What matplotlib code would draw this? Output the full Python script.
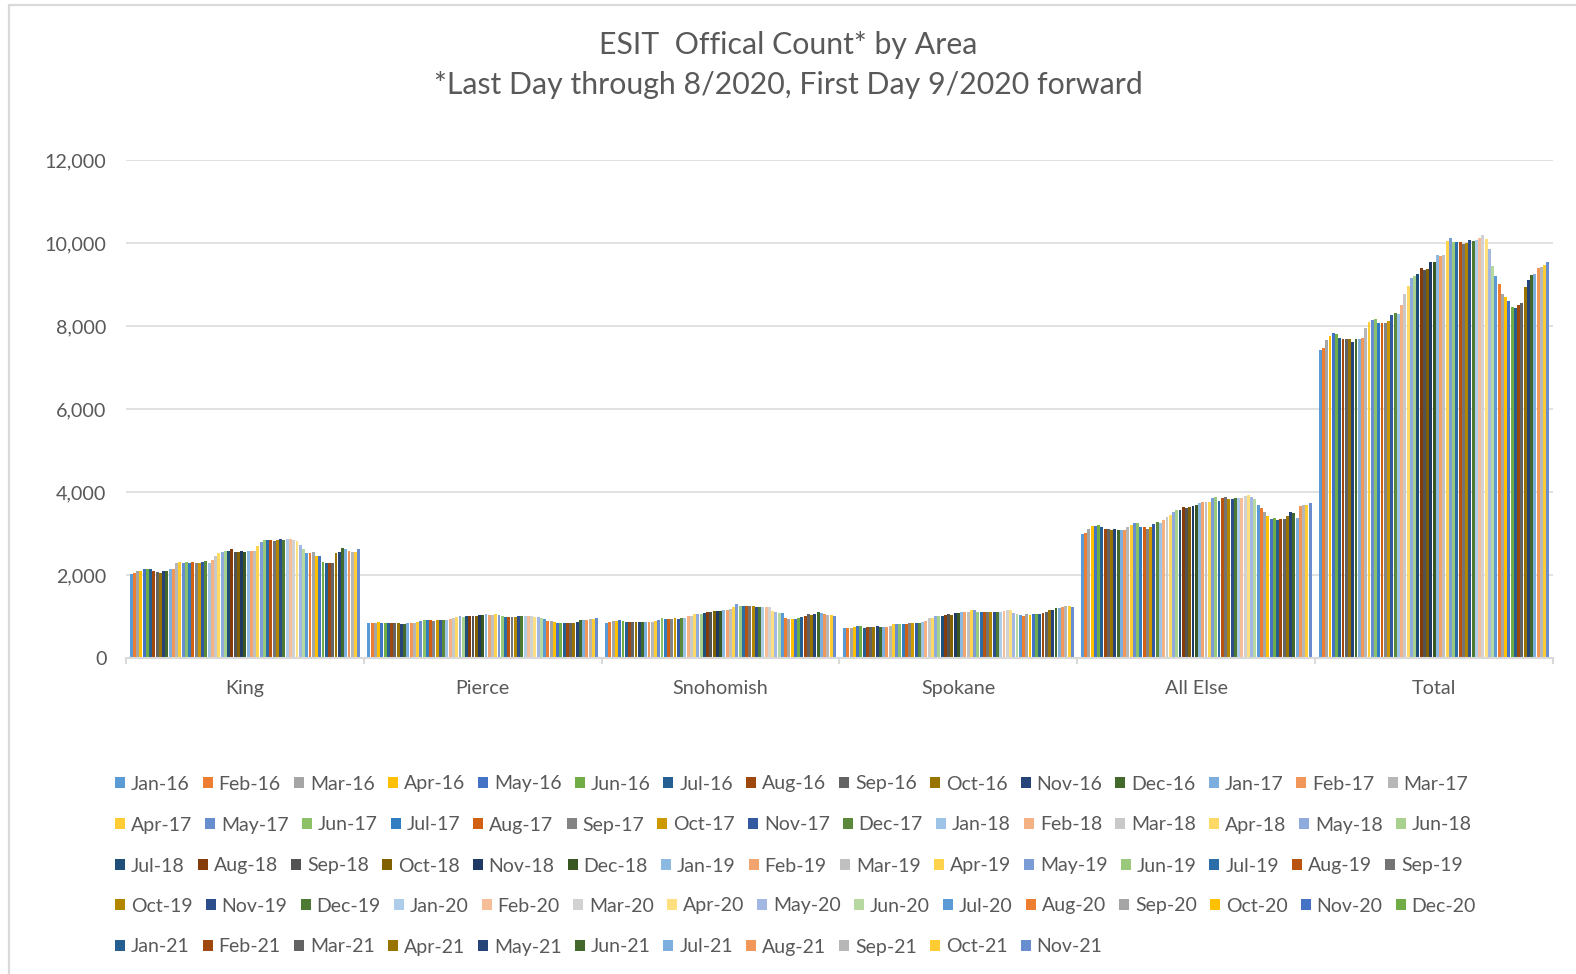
import colorsys
import numpy as np
import matplotlib
matplotlib.use("Agg")
import matplotlib.pyplot as plt
from matplotlib.patches import Patch, Rectangle
from matplotlib.ticker import FuncFormatter

# ---------------- data ----------------
categories = ["King", "Pierce", "Snohomish", "Spokane", "All Else", "Total"]

months = [f"{m}-{y}" for y in ["16", "17", "18", "19", "20", "21"]
          for m in ["Jan", "Feb", "Mar", "Apr", "May", "Jun",
                    "Jul", "Aug", "Sep", "Oct", "Nov", "Dec"]][:71]

king = [2020, 2050, 2100, 2100, 2140, 2140, 2140, 2100, 2080, 2050,
        2100, 2100, 2140, 2140, 2280, 2310, 2280, 2310, 2280, 2310,
        2280, 2280, 2310, 2340, 2290, 2370, 2450, 2530, 2560, 2590,
        2590, 2620, 2560, 2560, 2590, 2560, 2590, 2590, 2590, 2700,
        2790, 2840, 2840, 2840, 2815, 2840, 2865, 2840, 2865, 2865,
        2840, 2815, 2725, 2635, 2530, 2530, 2560, 2450, 2450, 2310,
        2280, 2280, 2280, 2530, 2560, 2645, 2635, 2590, 2560, 2560,
        2620]

pierce = [850, 850, 850, 870, 850, 850, 850, 850, 850, 850,
          825, 825, 850, 850, 850, 870, 900, 905, 905, 905,
          880, 905, 905, 905, 905, 940, 960, 985, 1020, 995,
          1020, 1020, 1020, 1020, 1045, 1045, 1070, 1045, 1045, 1070,
          1045, 1020, 985, 985, 985, 985, 1020, 1020, 1020, 1020,
          1010, 985, 985, 960, 940, 880, 880, 860, 850, 850,
          850, 850, 850, 850, 870, 905, 905, 905, 940, 940,
          960]

snohomish = [840, 865, 890, 890, 920, 890, 865, 865, 865, 865,
             865, 865, 865, 865, 865, 890, 920, 970, 945, 945,
             945, 970, 945, 970, 970, 1005, 1005, 1060, 1060, 1060,
             1085, 1120, 1120, 1140, 1140, 1140, 1165, 1165, 1185, 1225,
             1290, 1250, 1265, 1250, 1250, 1265, 1225, 1225, 1225, 1225,
             1225, 1140, 1120, 1085, 1085, 970, 945, 945, 945, 970,
             985, 1020, 1060, 1035, 1060, 1120, 1085, 1055, 1035, 1035,
             1005]

spokane = [720, 720, 720, 745, 760, 760, 720, 745, 745, 745,
           775, 745, 745, 745, 775, 810, 810, 810, 810, 810,
           840, 855, 840, 840, 875, 890, 955, 970, 1005, 1005,
           1005, 1035, 1060, 1035, 1085, 1085, 1120, 1120, 1120, 1165,
           1150, 1120, 1120, 1100, 1120, 1120, 1120, 1100, 1120, 1135,
           1165, 1165, 1085, 1070, 1035, 1020, 1055, 1035, 1060, 1070,
           1070, 1085, 1120, 1150, 1165, 1215, 1200, 1230, 1250, 1265,
           1230]

all_else = [2980, 3020, 3120, 3185, 3185, 3215, 3150, 3120, 3120, 3085,
            3120, 3085, 3085, 3085, 3150, 3200, 3250, 3250, 3150, 3150,
            3120, 3150, 3240, 3280, 3265, 3325, 3405, 3445, 3510, 3565,
            3575, 3635, 3610, 3640, 3665, 3690, 3725, 3770, 3770, 3770,
            3855, 3885, 3795, 3855, 3885, 3835, 3835, 3855, 3855, 3855,
            3900, 3935, 3885, 3835, 3690, 3610, 3510, 3410, 3345, 3365,
            3330, 3345, 3345, 3430, 3525, 3495, 3370, 3655, 3690, 3690,
            3740]

total = [7425, 7470, 7665, 7755, 7835, 7815, 7700, 7675, 7675, 7675,
         7610, 7675, 7675, 7700, 7960, 8100, 8155, 8180, 8065, 8065,
         8065, 8120, 8275, 8325, 8300, 8500, 8770, 8970, 9155, 9200,
         9260, 9400, 9360, 9380, 9545, 9545, 9707, 9675, 9707, 10050,
         10130, 10024, 10024, 10024, 9967, 9990, 10080, 10050, 10080, 10130,
         10190, 10105, 9845, 9455, 9195, 9008, 8770, 8700, 8600, 8463,
         8440, 8500, 8545, 8943, 9114, 9220, 9250, 9400, 9425, 9480,
         9537]

yticks = [0, 2000, 4000, 6000, 8000, 10000, 12000]

title_lines = ["ESIT  Offical Count* by Area",
               "*Last Day through 8/2020, First Day 9/2020 forward"]

# ---------------- colours (Excel Office palette variations) ----------------
base = ["#5B9BD5", "#ED7D31", "#A5A5A5", "#FFC000", "#4472C4", "#70AD47"]
variations = [(1.0, 0.0), (0.6, 0.0), (0.8, 0.2), (0.8, 0.0), (0.6, 0.4),
              (0.5, 0.0), (0.7, 0.3), (0.7, 0.0), (0.5, 0.5)]


def lum(hexc, mod, off):
    r, g, b = (int(hexc[i:i + 2], 16) / 255 for i in (1, 3, 5))
    h, l, s = colorsys.rgb_to_hls(r, g, b)
    l = min(1.0, l * mod + off)
    return colorsys.hls_to_rgb(h, l, s)


colors = []
for i in range(len(months)):
    blk = (i // 6) % len(variations)
    mod, off = variations[blk]
    colors.append(lum(base[i % 6], mod, off))

# ---------------- figure ----------------
plt.rcParams['font.family'] = ['Lato', 'DejaVu Sans']
TXT = "#595959"
GRID = "#D9D9D9"

W, H = 1576, 974
fig = plt.figure(figsize=(W / 100, H / 100), dpi=100)
fig.patch.set_facecolor("white")

# chart border (top/left visible)
fig.add_artist(Rectangle((9 / W, -0.05), 1.2, 1 - 5 / H + 0.05,
                         transform=fig.transFigure, fill=False,
                         edgecolor=GRID, linewidth=1.6))

ax = fig.add_axes([126 / W, 1 - 658 / H, (1553 - 126) / W, (658 - 160) / H])

series = [king, pierce, snohomish, spokane, all_else, total]
data = np.array(series)  # shape (6, 71)
n = len(months)
gap = 2.1
slot = 1.0 / (n + gap)
x0 = np.arange(len(categories))
handles = []
for j in range(n):
    xs = x0 - 0.5 + slot * (gap / 2 + j + 0.5)
    ax.bar(xs, data[:, j], width=slot * 0.9, color=colors[j],
           linewidth=0, zorder=3)
    handles.append(Patch(facecolor=colors[j], edgecolor='none', label=months[j]))

ax.set_xlim(-0.5, len(categories) - 0.5)
ax.set_ylim(0, 12000)
ax.set_yticks(yticks)
ax.yaxis.set_major_formatter(FuncFormatter(lambda v, p: f"{int(v):,}"))
ax.grid(axis='y', color=GRID, linewidth=1.1, zorder=0)
ax.set_axisbelow(True)
for s in ['top', 'right', 'left']:
    ax.spines[s].set_visible(False)
ax.spines['bottom'].set_color(GRID)
ax.spines['bottom'].set_linewidth(1.5)
ax.spines['bottom'].set_zorder(4)

FS = 14.2
ax.set_xticks(x0)
ax.set_xticklabels(categories)
ax.set_xticks(np.arange(-0.5, len(categories)), minor=True)
ax.tick_params(axis='x', which='major', length=0, pad=15.5, labelsize=FS,
               labelcolor=TXT)
ax.tick_params(axis='x', which='minor', length=4.5, width=1.5, color=GRID,
               direction='out')
ax.tick_params(axis='y', length=0, pad=14, labelsize=FS, labelcolor=TXT)

# title
fig.text(0.5, 1 - 45 / H, title_lines[0], ha='center', va='center',
         fontsize=21.8, color=TXT)
fig.text(0.5, 1 - 85 / H, title_lines[1], ha='center', va='center',
         fontsize=21.8, color=TXT)

# legend: rows packed like Excel
row_sizes = [15, 15, 15, 15, 11]
row_y = [784, 825, 866, 906, 947]
fs = 14
fs_px = fs * 100 / 72
start = 0
for k, cnt in enumerate(row_sizes):
    hs = handles[start:start + cnt]
    start += cnt
    leg = fig.legend(handles=hs, loc='center left',
                     bbox_to_anchor=(115 / W, 1 - row_y[k] / H),
                     ncol=cnt, frameon=False, fontsize=fs,
                     handlelength=10 / fs_px, handleheight=10 / fs_px,
                     handletextpad=6 / fs_px, columnspacing=13 / fs_px,
                     borderpad=0, borderaxespad=0, labelcolor=TXT)

fig.savefig("out.png", dpi=100, facecolor="white")
